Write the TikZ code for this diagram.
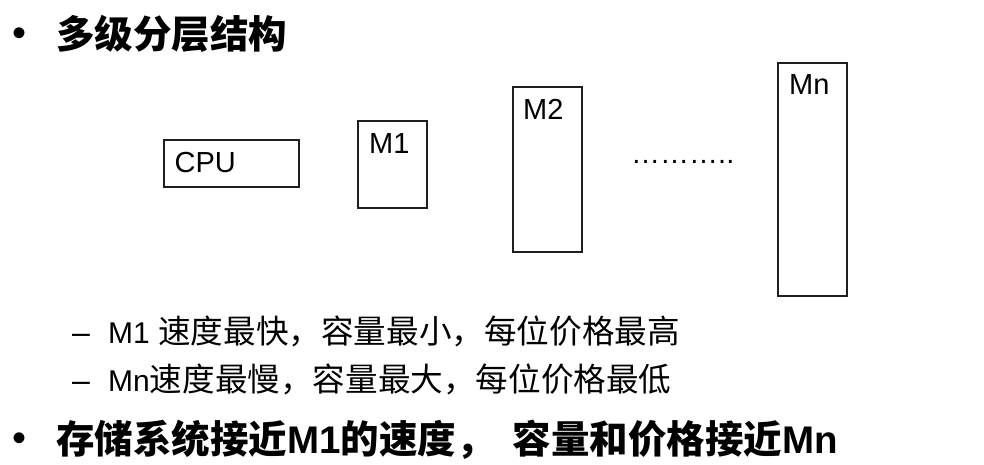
\documentclass[tikz,border=0pt]{standalone}
\usepackage{fontspec}
\setmainfont{Liberation Sans}
\newfontfamily\cj{Noto Sans CJK SC}
\begin{document}
\begin{tikzpicture}[x=1pt,y=-1pt,
  box/.style={draw=black!88,line width=1.6pt,anchor=north west,inner sep=0pt},
  lbl/.style={anchor=base west,inner sep=0pt,font=\fontsize{29}{34}\selectfont},
  txt/.style={anchor=base west,inner sep=0pt},
  bul/.style={anchor=base,inner sep=0pt,font=\fontsize{40}{46}\selectfont}]
\useasboundingbox (0,0) rectangle (984,465);
% title
\node[bul] (b1) at (20,47) {•};
\node[txt,font=\fontsize{38.5}{44}\selectfont\bfseries\cj] (t1) at (56,49) {多级分层结构};
% boxes
\node[box,minimum width=135pt,minimum height=47pt] (cpu) at (163,139) {};
\node[box,minimum width=69pt,minimum height=87pt] (m1) at (357,120) {};
\node[box,minimum width=69pt,minimum height=165pt] (m2) at (512,86) {};
\node[box,minimum width=69pt,minimum height=233pt] (mn) at (777,62) {};
\node[lbl] (cpul) at (174.5,172) {CPU};
\node[lbl] (m1l) at (369,154) {M1};
\node[lbl] (m2l) at (523,120) {M2};
\node[lbl] (mnl) at (789,95) {Mn};
\node[lbl] (dots) at (631,163.5) {………..};
% sub bullets
\node[txt,font=\fontsize{32}{38}\selectfont] (d1) at (72,343) {–};
\node[txt,font=\fontsize{30}{36}\selectfont] (s1) at (108,343) {M1 {\cj\fontsize{32.6}{38}\selectfont 速度最快，容量最小，每位价格最高}};
\node[txt,font=\fontsize{32}{38}\selectfont] (d2) at (72,391) {–};
\node[txt,font=\fontsize{30}{36}\selectfont] (s2) at (108,391) {Mn{\cj\fontsize{32.6}{38}\selectfont 速度最慢，容量最大，每位价格最低}};
% last bullet
\node[bul] (b2) at (20,451) {•};
\node[txt,font=\fontsize{38.5}{44}\selectfont\bfseries] (s3) at (56,453) {{\cj 存储系统接近}M1{\cj 的速度，}\hspace{18pt}{\cj 容量和价格接近}Mn};
\end{tikzpicture}
\end{document}
